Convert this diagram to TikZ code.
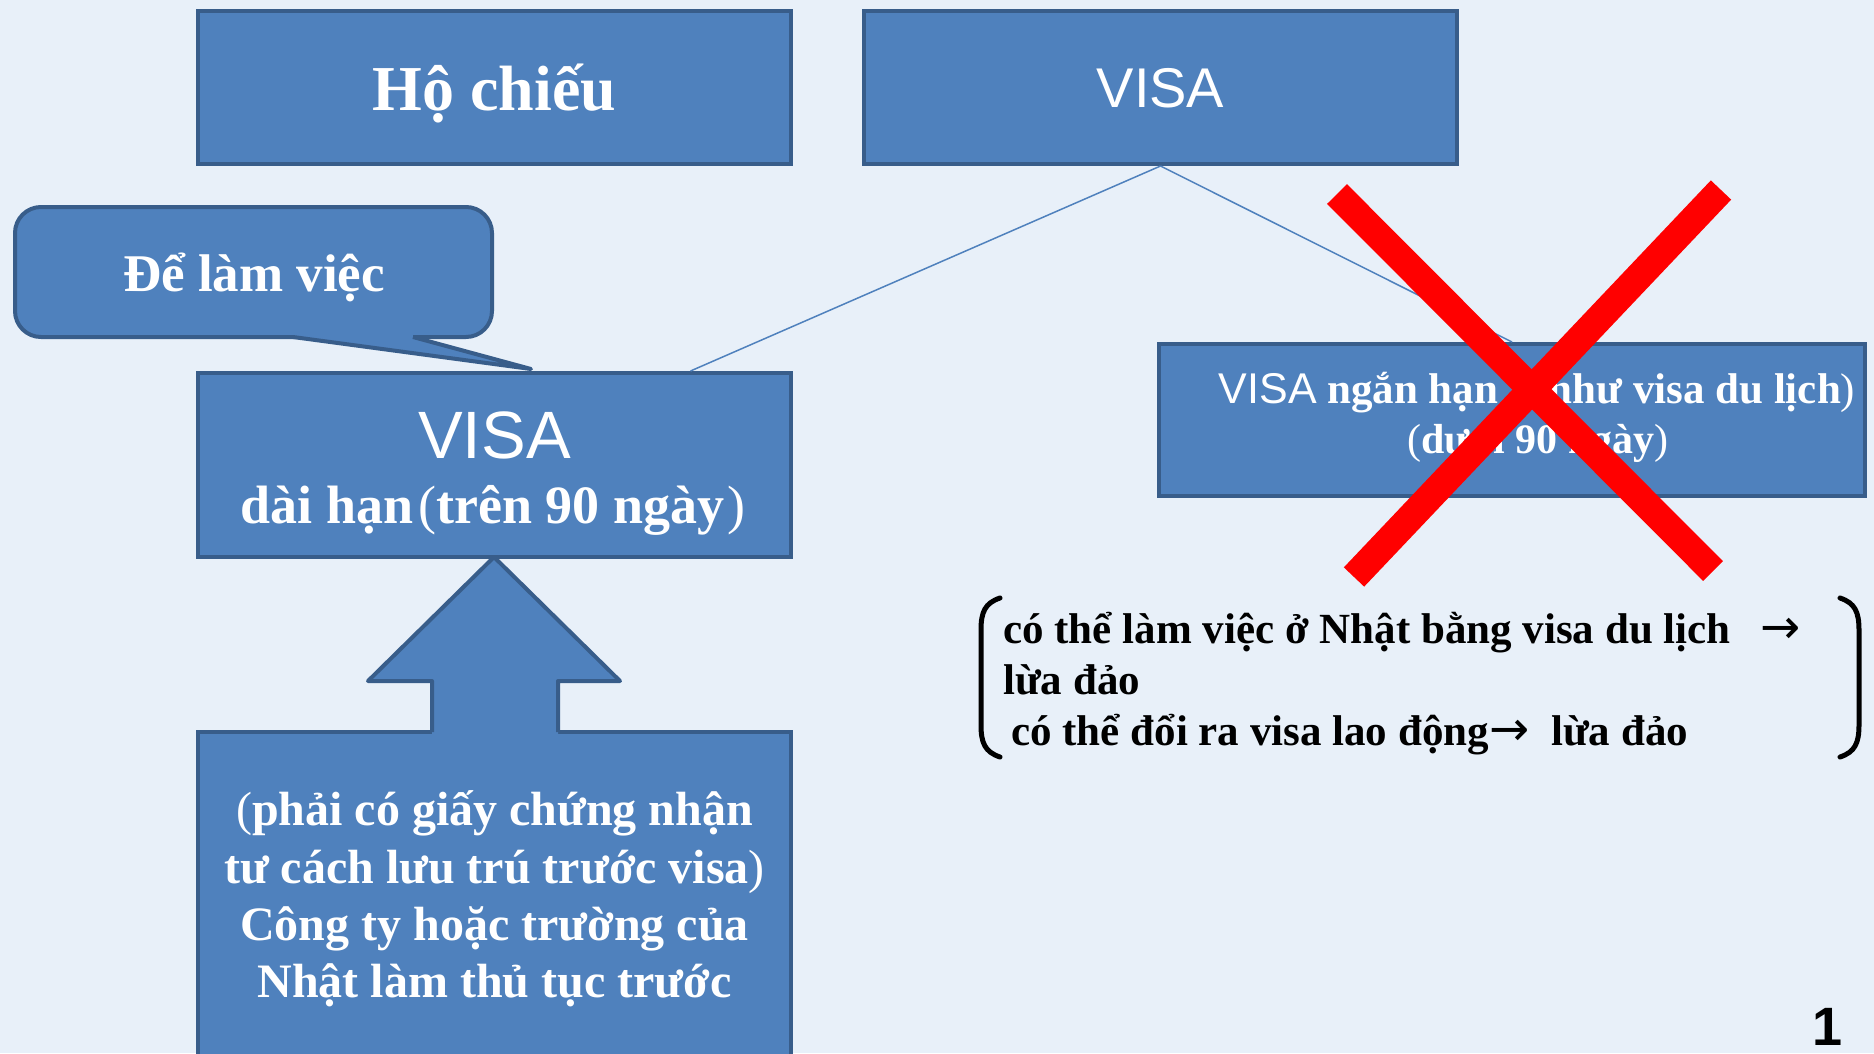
\documentclass[tikz,border=0pt]{standalone}
\usepackage{fontspec}
\setmainfont{Liberation Serif}
\newfontfamily\sansf{Liberation Sans}
\newfontfamily\arrowf{DejaVu Sans}
\definecolor{bgc}{HTML}{E8F0F9}
\definecolor{boxfill}{HTML}{4F81BD}
\definecolor{boxline}{HTML}{385D8A}
\definecolor{xred}{HTML}{FF0000}
\tikzset{
  bluebox/.style={draw=boxline, line width=4pt, fill=boxfill, inner sep=0pt},
  wtext/.style={text=white, inner sep=0pt, font=\bfseries},
  btext/.style={text=black, inner sep=0pt, font=\bfseries\fontsize{43}{51}\selectfont, anchor=base west},
  link/.style={draw=boxfill, line width=1.5pt},
  crossarm/.style={draw=xred, line width=28pt},
  bracketline/.style={draw=black, line width=5pt, line cap=round}
}
\begin{document}
\begin{tikzpicture}[x=1pt,y=-1pt]
\clip (0,0) rectangle (1874,1053);
\fill[bgc] (0,0) rectangle (1874,1053);

% top boxes
\node[bluebox, minimum width=593pt, minimum height=153pt] (passport) at (494.5,87.5) {};
\node[wtext, font=\bfseries\fontsize{64}{76}\selectfont] (passporttxt) at (494.5,93) {Hộ chiếu};
\node[bluebox, minimum width=593pt, minimum height=153pt] (visatop) at (1160.5,87.5) {};
\node[wtext, font=\sansf\fontsize{56}{66}\selectfont] (visatoptxt) at (1160.5,88) {VISA};

% long-term visa box
\node[bluebox, minimum width=593pt, minimum height=184pt] (longvisa) at (494.5,465) {};
\node[wtext, font=\sansf\fontsize{67}{76}\selectfont] (longvisa1) at (494.5,435) {VISA};
\node[wtext, font=\bfseries\fontsize{54}{62}\selectfont, anchor=base] (longvisa2) at (493,523) {dài hạn\hspace{5pt}{\mdseries(}trên 90 ngày\hspace{3pt}{\mdseries)}};

% short-term visa box
\node[bluebox, minimum width=706pt, minimum height=152pt] (shortvisa) at (1512,420) {};
\node[wtext, font=\bfseries\fontsize{43}{50}\selectfont, anchor=base] (shortvisa1) at (1537,403) {{\sansf\mdseries VISA} ngắn hạn\hspace{36pt}{\mdseries(}như visa du lịch{\mdseries)}};
\node[wtext, font=\bfseries\fontsize{42}{50}\selectfont, anchor=base] (shortvisa2) at (1538,453) {{\mdseries(}dưới 90 ngày{\mdseries)}};

% connectors
\draw[link] (visatop.south) -- ([xshift=196pt]longvisa.north);
\draw[link] (visatop.south) -- (shortvisa.north);

% callout
\node[bluebox, rounded corners=26pt, minimum width=477pt, minimum height=130pt] (callout) at (253.5,272) {};
\fill[boxfill] (293,337) -- (531,369) -- (413,337) -- (413,332) -- (293,332) -- cycle;
\draw[boxline, line width=4pt, line join=round] (293,337) -- (531,369) -- (413,337);
\node[wtext, font=\bfseries\fontsize{53}{62}\selectfont] (callouttxt) at (254,277) {Để làm việc};

% bottom box
\node[bluebox, minimum width=593pt, minimum height=340pt, anchor=north] (reqbox) at (494.5,730) {};
\node[wtext, font=\bfseries\fontsize{48}{57}\selectfont, anchor=base] (req1) at (494.5,825) {{\mdseries(}phải có giấy chứng nhận};
\node[wtext, font=\bfseries\fontsize{48}{57}\selectfont, anchor=base] (req2) at (494.5,883) {tư cách lưu trú trước visa{\mdseries)}};
\node[wtext, font=\bfseries\fontsize{48}{57}\selectfont, anchor=base] (req3) at (494.5,940) {Công ty hoặc trường của};
\node[wtext, font=\bfseries\fontsize{48}{57}\selectfont, anchor=base] (req4) at (494.5,997) {Nhật làm thủ tục trước};

% up block arrow
\fill[boxfill] (494,557) -- (620,681) -- (558,681) -- (558,734) -- (432,734) -- (432,681) -- (368,681) -- cycle;
\draw[boxline, line width=4pt, line join=round] (432,732) -- (432,681) -- (368,681) -- (494,557) -- (620,681) -- (558,681) -- (558,732);

% red cross
\draw[crossarm] (1337,194) -- (1713,571);
\draw[crossarm] (1721,190) -- (1354,577);

% bracketed note
\draw[bracketline] (1000,598) .. controls (985,603) and (981,612) .. (981,630) -- (981,725) .. controls (981,743) and (985,752) .. (1000,757);
\draw[bracketline] (1840,598) .. controls (1855,603) and (1859,612) .. (1859,630) -- (1859,725) .. controls (1859,743) and (1855,752) .. (1840,757);
\node[btext] (note1) at (1003,643) {có thể làm việc ở Nhật bằng visa du lịch\hspace{30pt}{\arrowf\mdseries\fontsize{48}{51}\selectfont →}};
\node[btext] (note2) at (1003,694) {lừa đảo};
\node[btext] (note3) at (1011,745) {có thể đổi ra visa lao động{\arrowf\mdseries\fontsize{48}{51}\selectfont →}\hspace{22pt}lừa đảo};

% page number
\node[inner sep=0pt, font=\sansf\bfseries\fontsize{54}{64}\selectfont] (pagenum) at (1827,1027) {1};
\end{tikzpicture}
\end{document}
